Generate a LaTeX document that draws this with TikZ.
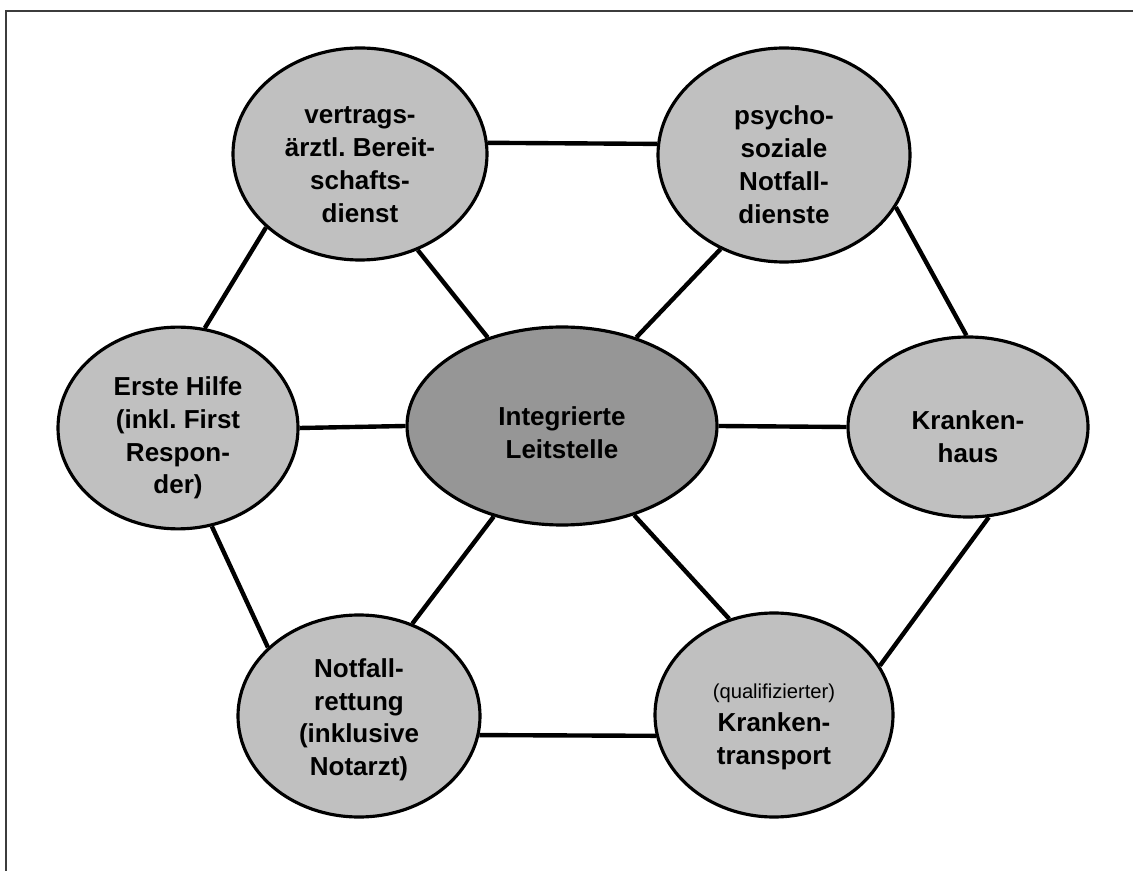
\documentclass[tikz,border=0pt]{standalone}
\usepackage{fontspec}
\setmainfont{Liberation Sans}
\usetikzlibrary{shapes.geometric}
\definecolor{outergray}{RGB}{192,192,192}
\definecolor{innergray}{RGB}{150,150,150}
\definecolor{framegray}{RGB}{60,60,60}
\newcommand{\topgap}[1]{\rule{0pt}{#1}}
\frenchspacing

\begin{document}
\begin{tikzpicture}[every node/.style={ellipse, draw, line width=1.8pt, inner sep=0pt, align=center, fill=outergray, font=\fontsize{14.8}{18.7}\selectfont\bfseries}, every path/.style={line width=2.5pt}]

    \useasboundingbox (0,0) rectangle (22.66,-17.42);
    \draw[line width=0.6pt, framegray] (0.12,-17.42) -- (0.12,-0.22) -- (22.66,-0.22);

    \node[fill=innergray, minimum width=6.2cm, minimum height=3.96cm] (leitstelle) at (11.24,-8.52) {\topgap{18.8pt}Integrierte\\Leitstelle};

    \node[minimum width=5.08cm, minimum height=4.24cm] (dienst) at (7.2,-3.08) {\topgap{22pt}vertrags-\\ärztl. Bereit-\\schafts-\\dienst};
    \node[minimum width=5.04cm, minimum height=4.28cm] (psycho) at (15.68,-3.1) {\topgap{22pt}psycho-\\soziale\\Notfall-\\dienste};

    \node[minimum width=4.8cm, minimum height=3.54cm] (hilfe) at (3.56,-8.56) {\topgap{22pt}Erste Hilfe\\(inkl. First\\Respon-\\der)};
    \node[minimum width=4.8cm, minimum height=3.6cm] (haus) at (19.36,-8.54) {\topgap{22pt}Kranken-\\haus};

    \node[minimum width=4.84cm, minimum height=4.04cm] (rettung) at (7.18,-14.32) {\topgap{15pt}Notfall-\\rettung\\(inklusive\\Notarzt)};
    \node[minimum width=4.76cm, minimum height=4.08cm] (transport) at (15.48,-14.3) {{\fontsize{11.5}{14}\selectfont\mdseries\topgap{22pt}(qualifizierter)}\\Kranken-\\transport};

    \draw[] (dienst.5) to (psycho.175);
    \draw[] (dienst.218) to (hilfe.75);
    \draw[] (dienst.301) to (leitstelle.130);
    \draw[] (psycho.236) to (leitstelle.50);
    \draw[] (psycho.335) to (haus.91);
    \draw[] (hilfe.0) to (leitstelle.180);
    \draw[] (leitstelle.0) to (haus.180);
    \draw[] (hilfe.289) to (rettung.143);
    \draw[] (rettung.60) to (leitstelle.233);
    \draw[] (rettung.351) to (transport.190);
    \draw[] (leitstelle.309) to (transport.115);
    \draw[] (haus.283) to (transport.25);

\end{tikzpicture}
\end{document}
